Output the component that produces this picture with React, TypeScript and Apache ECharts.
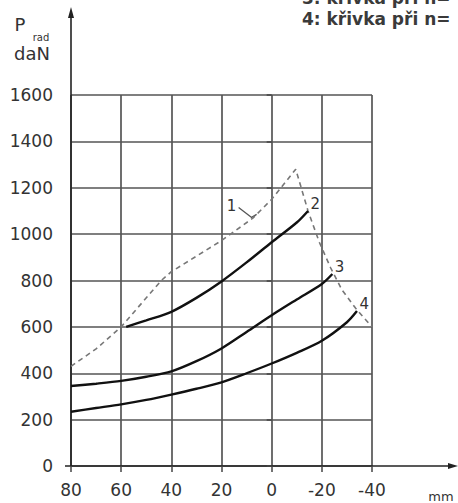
import React, { useEffect, useRef } from "react";
import * as echarts from "echarts";

// axis ticks
const xMin = -40;
const xMax = 80;
const xStep = 20;
const yMin = 0;
const yMax = 1600;
const yStep = 200;

// curve 1 (dashed)
const curve1X = [80, 70, 60, 44, 40, 30, 20, 7.5, 0, -9.6, -14.5, -19, -23.5, -28, -33.5, -40];
const curve1Y = [430, 505, 600, 800, 838, 905, 972, 1069, 1150, 1280, 1100, 965, 855, 760, 680, 600];
// curve 2
const curve2X = [58, 50, 40, 30, 20, 10, 0, -10, -14.5];
const curve2Y = [600, 628, 665, 725, 796, 878, 965, 1050, 1100];
// curve 3
const curve3X = [80, 70, 60, 50, 40, 30, 20, 10, 0, -10, -20, -24.2];
const curve3Y = [345, 355, 367, 385, 408, 452, 507, 578, 650, 718, 785, 828];
// curve 4
const curve4X = [80, 70, 60, 50, 40, 30, 20, 10, 0, -10, -20, -30, -34];
const curve4Y = [234, 250, 266, 285, 308, 333, 361, 400, 442, 488, 540, 620, 668];

const curveNames = ["1", "2", "3", "4"];
const label1Anchor = [6, 1085];

const legendLines = ["3: křivka při n=", "4: křivka při n="];
const yTitle = ["P", "rad", "daN"];
const xUnit = "mm";

const FONT = "DejaVu Sans";
const TXT = "#333";

const pairs = (xs: number[], ys: number[]) => xs.map((x, i) => [x, ys[i]]);

export default function App() {
  const ref = useRef<HTMLDivElement>(null);
  useEffect(() => {
    const chart = echarts.init(ref.current!, null, { renderer: "svg" });
    const solid = (name: string, xs: number[], ys: number[]) => ({
      type: "line",
      name,
      data: pairs(xs, ys),
      smooth: 0.3,
      showSymbol: false,
      symbol: "none",
      lineStyle: { color: "#111", width: 2.4 },
      endLabel: {
        show: true,
        formatter: name,
        distance: 3,
        offset: [15, -7],
        fontSize: 15,
        fontFamily: FONT,
        color: TXT,
      },
    });
    chart.setOption({
      animation: false,
      grid: { left: 71, right: 86, top: 95, bottom: 37 },
      xAxis: {
        type: "value",
        inverse: true,
        min: xMin,
        max: xMax,
        interval: xStep,
        axisLine: { show: false },
        axisTick: { show: true, length: 6, lineStyle: { color: "#444", width: 1.5 } },
        axisLabel: { margin: 15, fontSize: 17, fontFamily: FONT, color: TXT, formatter: (v: number) => String(v) },
        splitLine: { show: true, lineStyle: { color: "#555", width: 1.7 } },
      },
      yAxis: {
        type: "value",
        min: yMin,
        max: yMax,
        interval: yStep,
        axisLine: { show: false },
        axisTick: { show: true, length: 5, lineStyle: { color: "#444", width: 1.5 } },
        axisLabel: { margin: 18, fontSize: 17, fontFamily: FONT, color: TXT, formatter: (v: number) => String(v) },
        splitLine: { show: true, lineStyle: { color: "#555", width: 1.7 } },
      },
      series: [
        {
          type: "line",
          name: curveNames[0],
          data: pairs(curve1X, curve1Y),
          smooth: false,
          showSymbol: false,
          symbol: "none",
          lineStyle: { color: "#777", width: 1.6, type: [5, 4] },
        },
        solid(curveNames[1], curve2X, curve2Y),
        solid(curveNames[2], curve3X, curve3Y),
        solid(curveNames[3], curve4X, curve4Y),
      ],
    });

    const o = chart.convertToPixel({ gridIndex: 0 }, [xMax, yMin]) as number[];
    const a = chart.convertToPixel({ gridIndex: 0 }, label1Anchor) as number[];
    const W = 458;
    chart.setOption({
      graphic: [
        { type: "line", shape: { x1: o[0], y1: o[1], x2: o[0], y2: 14 }, style: { stroke: "#222", lineWidth: 1.6 } },
        { type: "polygon", shape: { points: [[o[0], 7], [o[0] - 3, 18], [o[0] + 3, 18]] }, style: { fill: "#222" } },
        { type: "line", shape: { x1: o[0] - 6, y1: o[1], x2: W - 4, y2: o[1] }, style: { stroke: "#222", lineWidth: 1.6 } },
        { type: "polygon", shape: { points: [[W, o[1]], [W - 10, o[1] - 3], [W - 10, o[1] + 3]] }, style: { fill: "#222" } },
        {
          type: "polyline",
          shape: { points: [[a[0] - 18, a[1] - 7], [a[0] - 5, a[1] + 3], [a[0], a[1]]] },
          style: { stroke: "#555", lineWidth: 1.3, fill: "none" },
        },
        {
          type: "text", x: a[0] - 25, y: a[1] - 8,
          style: { text: curveNames[0], fontSize: 15, fontFamily: FONT, fill: TXT, align: "center", verticalAlign: "middle" },
        },
        {
          type: "text", x: 20, y: 24,
          style: { text: yTitle[0], fontSize: 18, fontFamily: FONT, fill: TXT, align: "center", verticalAlign: "middle" },
        },
        {
          type: "text", x: 41, y: 37,
          style: { text: yTitle[1], fontSize: 10, fontFamily: FONT, fill: TXT, align: "center", verticalAlign: "middle" },
        },
        {
          type: "text", x: 32, y: 53,
          style: { text: yTitle[2], fontSize: 18, fontFamily: FONT, fill: TXT, align: "center", verticalAlign: "middle" },
        },
        {
          type: "text", x: 441, y: 496,
          style: { text: xUnit, fontSize: 13, fontFamily: FONT, fill: TXT, align: "center", verticalAlign: "middle" },
        },
        {
          type: "text", x: 302, y: -2,
          style: { text: legendLines[0], fontSize: 17, fontWeight: "bold", fontFamily: FONT, fill: "#3a3a3a", align: "left", verticalAlign: "middle" },
        },
        {
          type: "text", x: 302, y: 19,
          style: { text: legendLines[1], fontSize: 17, fontWeight: "bold", fontFamily: FONT, fill: "#3a3a3a", align: "left", verticalAlign: "middle" },
        },
      ],
    });
    return () => chart.dispose();
  }, []);
  return <div ref={ref} style={{ position: "fixed", left: 0, top: 0, width: 458, height: 503, background: "#fff" }} />;
}
